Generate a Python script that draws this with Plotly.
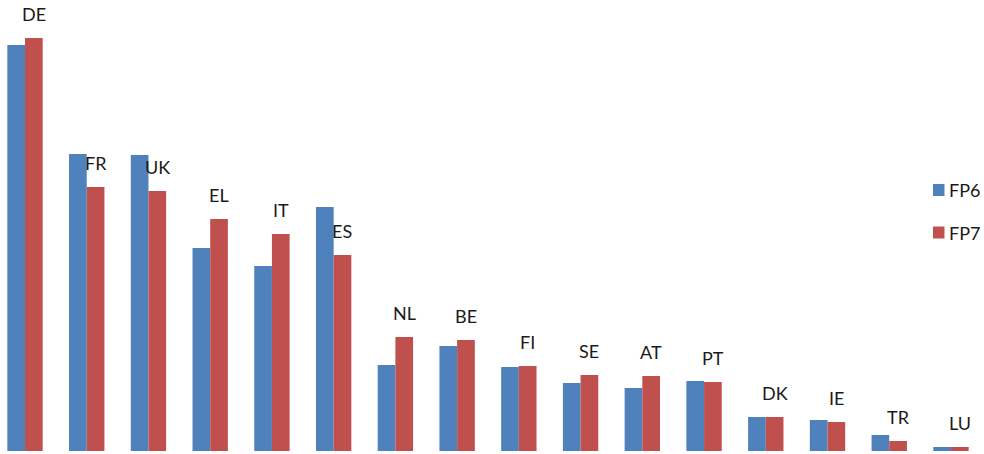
import plotly.graph_objects as go

# Country codes in chart order
countries = ["DE", "FR", "UK", "EL", "IT", "ES", "NL", "BE",
             "FI", "SE", "AT", "PT", "DK", "IE", "TR", "LU"]

# Series values (FP6 vs FP7)
fp6 = [4060, 2970, 2960, 2030, 1850, 2440, 860, 1050,
       840, 680, 630, 700, 340, 310, 160, 40]
fp7 = [4130, 2640, 2600, 2320, 2170, 1960, 1140, 1110,
       850, 760, 750, 690, 340, 290, 100, 40]

series = [("FP6", fp6, "#4F81BD"), ("FP7", fp7, "#C0504D")]

FONT = "Lato, 'Open Sans', sans-serif"
W, H, BOTTOM = 984, 454, 3
PLOT_H = H - BOTTOM

fig = go.Figure()
for name, vals, color in series:
    fig.add_trace(go.Bar(x=countries, y=vals, name=name, marker_color=color,
                         marker_line_width=0, showlegend=False))

# Country labels sit above each FP7 bar
for c, v in zip(countries, fp7):
    fig.add_annotation(x=c, y=v, text=c, showarrow=False,
                       xshift=8.8, yshift=24, yanchor="middle",
                       font=dict(family=FONT, size=18, color="#1a1a1a"))


def px_x(p):
    return p / W


def px_y(p):
    return (PLOT_H - p) / PLOT_H


# Legend key: coloured square plus series name, stacked on the right
for i, (name, _, color) in enumerate(series):
    cy = 190 + i * 42.5
    fig.add_shape(type="rect", xref="paper", yref="paper",
                  x0=px_x(933), x1=px_x(944.5), y0=px_y(cy + 6), y1=px_y(cy - 6),
                  fillcolor=color, line_width=0)
    fig.add_annotation(xref="paper", yref="paper", x=px_x(947), y=px_y(cy),
                       xanchor="left", yanchor="middle", text=name,
                       showarrow=False,
                       font=dict(family=FONT, size=18, color="#1a1a1a"))

fig.update_layout(
    width=W, height=H,
    margin=dict(l=0, r=0, t=0, b=BOTTOM, autoexpand=False),
    plot_bgcolor="white", paper_bgcolor="white",
    barmode="group", bargap=0.427, bargroupgap=0,
    showlegend=False,
    xaxis=dict(range=[-0.405, 15.535], showticklabels=False,
               showgrid=False, zeroline=False, showline=False, ticks=""),
    yaxis=dict(range=[0, 4510], showticklabels=False, showgrid=False,
               zeroline=False, showline=False, ticks=""),
)

fig.write_html("out.html")
